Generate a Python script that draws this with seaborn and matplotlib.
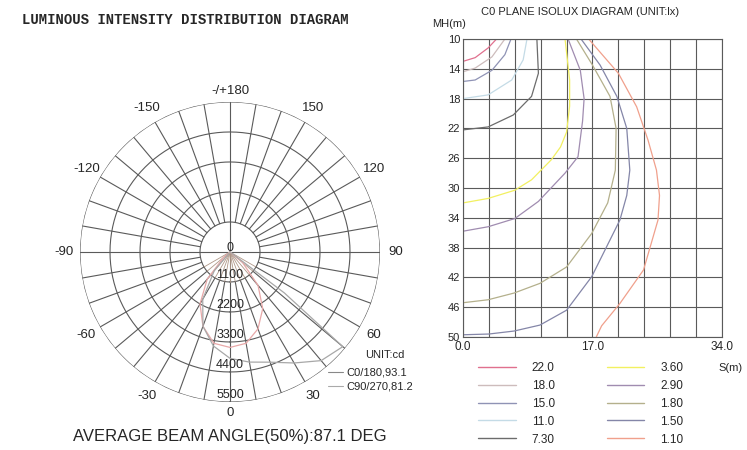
import numpy as np
import pandas as pd
import seaborn as sns
import matplotlib.pyplot as plt
from matplotlib.lines import Line2D

# --- luminous intensity (polar), angle in deg from nadir, intensity in cd
c0_angle = [-60, -50, -40, -30, -20, -10, 0, 10, 20, 30, 40, 50, 60]
c0_cd = [0, 300, 1300, 2200, 2900, 3400, 3500, 3400, 3000, 2400, 1600, 600, 0]
c90_angle = [-50, -40, -30, -20, -10, 0, 10, 20, 30, 40, 50, 53, 56]
c90_cd = [0, 900, 2000, 2900, 3500, 3900, 4100, 4300, 4700, 5200, 5400, 2500, 0]

ring_values = [1100, 2200, 3300, 4400, 5500]
angle_ticks = [0, 30, 60, 90, 120, 150, 180, -150, -120, -90, -60, -30]
angle_labels = ["0", "30", "60", "90", "120", "150", "-/+180", "-150", "-120", "-90", "-60", "-30"]

# --- isolux curves, S(m) vs MH(m)
lux_levels = ["22.0", "18.0", "15.0", "11.0", "7.30", "3.60", "2.90", "1.80", "1.50", "1.10"]
lux_colors = ["#e0708e", "#cdbcbc", "#8f93b5", "#c4dbe6", "#6c6c6c",
              "#f2f060", "#a08cb0", "#b4b08c", "#8486a8", "#f0a08c"]
s_22 = [0, 1.6, 3.3, 4.4]
mh_22 = [13.0, 12.5, 11.2, 10.0]
s_18 = [0, 1.6, 3.8, 5.5]
mh_18 = [14.4, 13.9, 12.4, 10.0]
s_15 = [0, 1.6, 3.8, 5.5, 6.3]
mh_15 = [15.7, 15.5, 14.2, 12.1, 10.0]
s_11 = [0, 3.3, 6.4, 7.9, 8.4]
mh_11 = [18.0, 17.5, 15.5, 12.8, 10.0]
s_7 = [0, 3.3, 6.6, 9.0, 9.9, 9.7]
mh_7 = [22.2, 21.8, 20.2, 17.7, 14.6, 10.0]
s_36 = [13.4, 14.0, 14.0, 13.6, 12.8, 11.6, 9.0, 6.8, 3.3, 0]
mh_36 = [10.0, 15.5, 19.0, 22.5, 24.5, 26.2, 28.9, 30.3, 31.4, 32.0]
s_29 = [13.8, 15.4, 15.9, 15.7, 15.1, 13.4, 9.9, 6.8, 3.3, 0]
mh_29 = [10.0, 14.2, 18.0, 21.0, 25.8, 28.0, 31.8, 34.1, 35.2, 35.8]
s_18b = [14.9, 17.0, 19.3, 20.1, 20.0, 19.0, 16.9, 13.6, 10.1, 6.7, 3.3, 0]
mh_18b = [10.0, 13.5, 17.7, 22.0, 27.6, 32.0, 36.1, 40.6, 42.8, 44.1, 45.0, 45.4]
s_15b = [15.5, 18.0, 20.2, 21.5, 21.9, 21.5, 20.6, 16.9, 13.6, 10.1, 6.7, 3.4, 0]
mh_15b = [10.0, 13.5, 17.7, 22.0, 27.6, 31.0, 34.3, 41.9, 46.4, 48.4, 49.2, 49.6, 49.7]
s_11b = [16.5, 20.4, 22.8, 24.3, 25.4, 25.8, 25.6, 23.7, 20.6, 18.2, 17.5]
mh_11b = [10.0, 14.6, 19.1, 23.6, 27.6, 31.0, 34.3, 41.0, 45.5, 48.5, 50.0]

curves = [(s_22, mh_22), (s_18, mh_18), (s_15, mh_15), (s_11, mh_11), (s_7, mh_7),
          (s_36, mh_36), (s_29, mh_29), (s_18b, mh_18b), (s_15b, mh_15b), (s_11b, mh_11b)]
iso = pd.concat([pd.DataFrame({"S": s, "MH": mh, "level": lv, "order": range(len(s))})
                 for lv, (s, mh) in zip(lux_levels, curves)], ignore_index=True)

sns.set_style("white")
plt.rcParams["font.family"] = ["Liberation Sans", "DejaVu Sans"]

fig = plt.figure(figsize=(7.47, 4.5), dpi=100)
grid_col = "#5a5a5a"

# ---------------- polar diagram
ax_p = fig.add_axes([0.1071, 0.1067, 0.4016, 0.6667], projection="polar")
ax_p.set_theta_zero_location("S")
ax_p.set_theta_direction(1)
ax_p.set_ylim(0, 5500)
ax_p.axis("off")

full = np.linspace(0, 2 * np.pi, 361)
for v in ring_values:
    ax_p.plot(full, np.full_like(full, v), color=grid_col, lw=0.8)
for a in range(-170, 181, 10):
    r0 = 0 if a % 90 == 0 else ring_values[0]
    ax_p.plot([np.radians(a)] * 2, [r0, ring_values[-1]], color=grid_col, lw=0.8)
for a in range(-60, 61, 10):
    ax_p.plot([np.radians(a)] * 2, [0, ring_values[0]], color="#b09888", lw=0.6)

pol = pd.DataFrame({"theta": np.radians(c0_angle), "cd": c0_cd})
sns.lineplot(data=pol, x="theta", y="cd", sort=False, estimator=None, ax=ax_p,
             color="#e8a8a8", lw=0.9, legend=False)
pol90 = pd.DataFrame({"theta": np.radians(c90_angle), "cd": c90_cd})
sns.lineplot(data=pol90, x="theta", y="cd", sort=False, estimator=None, ax=ax_p,
             color="#a8a8a8", lw=0.9, legend=False)

ax_p.text(np.pi, 150, "0", ha="center", va="center", fontsize=9)
for v in ring_values:
    ax_p.text(0, v - 250, str(v), ha="center", va="center", fontsize=9)
for a, lab in zip(angle_ticks, angle_labels):
    r_lab = 5900 if a in (0, 180) else 6080
    ax_p.text(np.radians(a), r_lab, lab, ha="center", va="center", fontsize=9.5, clip_on=False)

fig.text(385 / 747, 1 - 355 / 450, "UNIT:cd", ha="center", va="center", fontsize=8)
fig.legend(handles=[Line2D([], [], color="#888888", lw=0.8), Line2D([], [], color="#aaaaaa", lw=0.8)],
           labels=["C0/180,93.1", "C90/270,81.2"], loc="upper left",
           bbox_to_anchor=(322 / 747, 1 - 362 / 450), frameon=False, fontsize=8,
           handlelength=1.4, handletextpad=0.3, labelspacing=0.35, borderpad=0)

fig.text(22 / 747, 1 - 20 / 450, "LUMINOUS INTENSITY DISTRIBUTION DIAGRAM",
         family="Liberation Mono", fontsize=10, weight="bold", va="center")
fig.text(230 / 747, 1 - 437 / 450, "AVERAGE BEAM ANGLE(50%):87.1 DEG",
         ha="center", va="center", fontsize=12)

# ---------------- isolux diagram
ax_i = fig.add_axes([0.6198, 0.2511, 0.3467, 0.6622])
sns.lineplot(data=iso, x="S", y="MH", hue="level", units="level", sort=False,
             estimator=None, palette=dict(zip(lux_levels, lux_colors)),
             hue_order=lux_levels, lw=0.9, legend=False, ax=ax_i)
ax_i.set_xlim(0, 34)
ax_i.set_ylim(50, 10)
xt = np.arange(0, 34.01, 3.4)
ax_i.set_xticks(xt)
ax_i.set_xticklabels(["0.0" if i == 0 else "17.0" if i == 5 else "34.0" if i == 10 else "" for i in range(len(xt))],
                     fontsize=8.5)
ax_i.set_yticks(range(10, 51, 4))
ax_i.set_yticklabels([str(v) for v in range(10, 51, 4)], fontsize=8)
ax_i.tick_params(axis="y", length=0, pad=2)
ax_i.tick_params(axis="x", length=0, pad=3)
ax_i.grid(True, color=grid_col, lw=0.8)
for sp in ax_i.spines.values():
    sp.set_color(grid_col)
    sp.set_linewidth(0.8)
ax_i.set_xlabel("")
ax_i.set_ylabel("")

fig.text(580 / 747, 1 - 12 / 450, "C0 PLANE ISOLUX DIAGRAM (UNIT:lx)", ha="center", va="center", fontsize=8)
fig.text(432 / 747, 1 - 24 / 450, "MH(m)", ha="left", va="center", fontsize=8)
fig.text(731 / 747, 1 - 368 / 450, "S(m)", ha="center", va="center", fontsize=8)

handles = [Line2D([], [], color=c, lw=1.0) for c in lux_colors]
fig.legend(handles=handles, labels=lux_levels, ncol=2, loc="upper left",
           bbox_to_anchor=(472 / 747, 1 - 356 / 450), frameon=False, fontsize=8.5,
           handlelength=3.2, handletextpad=1.35, columnspacing=4.4, labelspacing=0.5, borderpad=0)

fig.savefig("out.png", dpi=100)
